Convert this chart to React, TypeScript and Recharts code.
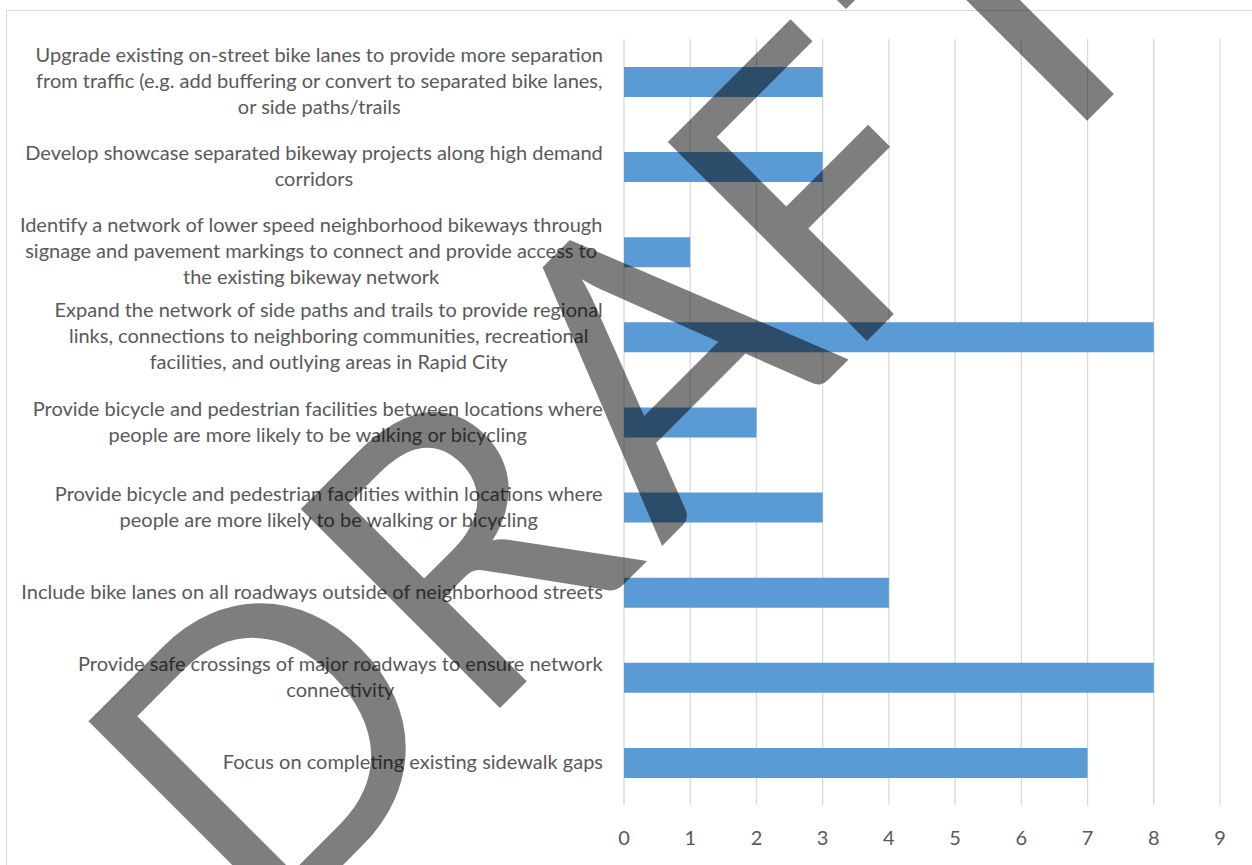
import React from "react";
import { BarChart, Bar, XAxis, YAxis, CartesianGrid } from "recharts";

// strategy labels, top to bottom, with the line breaks used in the source chart
const strategies = [
  "Upgrade existing on-street bike lanes to provide more separation\nfrom traffic (e.g. add buffering or convert to separated bike lanes,\nor side paths/trails",
  "Develop showcase separated bikeway projects along high demand\ncorridors",
  "Identify a network of lower speed neighborhood bikeways through\nsignage and pavement markings to connect and provide access to\nthe existing bikeway network",
  "Expand the network of side paths and trails to provide regional\nlinks, connections to neighboring communities, recreational\nfacilities, and outlying areas in Rapid City",
  "Provide bicycle and pedestrian facilities between locations where\npeople are more likely to be walking or bicycling",
  "Provide bicycle and pedestrian facilities within locations where\npeople are more likely to be walking or bicycling",
  "Include bike lanes on all roadways outside of neighborhood streets",
  "Provide safe crossings of major roadways to ensure network\nconnectivity",
  "Focus on completing existing sidewalk gaps",
];

const votes = [3, 3, 1, 8, 2, 3, 4, 8, 7];

const xTicks = [0, 1, 2, 3, 4, 5, 6, 7, 8, 9];

const watermark = ["D", "R", "A", "F", "T"];

const BAR_COLOR = "#5b9bd5";
const TEXT_COLOR = "#595959";
const GRID_COLOR = "#d9d9d9";
const FONT = "Lato";
const LABEL_SIZE = 20;
const LINE_H = 26;

const data = strategies.map((s, i) => ({ name: s, value: votes[i] }));

let measureCtx: CanvasRenderingContext2D | null = null;
function textWidth(t: string, size: number) {
  if (!measureCtx) measureCtx = document.createElement("canvas").getContext("2d");
  if (!measureCtx) return t.length * size * 0.5;
  measureCtx.font = `${size}px ${FONT}`;
  return measureCtx.measureText(t).width;
}

function CategoryTick(props: any) {
  const { x, y, payload } = props;
  const lines: string[] = String(payload.value).split("\n");
  const right = x - 13;
  const blockW = Math.max(...lines.map((l) => textWidth(l, LABEL_SIZE)));
  const cx = right - blockW / 2;
  const n = lines.length;
  return (
    <g>
      {lines.map((l, i) => (
        <text
          key={i}
          x={cx}
          y={y + (i - (n - 1) / 2) * LINE_H - 1.5}
          textAnchor="middle"
          dominantBaseline="central"
          fontFamily={FONT}
          fontSize={LABEL_SIZE}
          fill={TEXT_COLOR}
        >
          {l}
        </text>
      ))}
    </g>
  );
}

function ValueTick(props: any) {
  const { x, y, payload } = props;
  return (
    <text
      x={x}
      y={y}
      dy={24}
      textAnchor="middle"
      dominantBaseline="central"
      fontFamily={FONT}
      fontSize={20}
      fill={TEXT_COLOR}
    >
      {payload.value}
    </text>
  );
}

// centres of each watermark letter along the rotated baseline
const letterPos = [-334, -60, 214, 447, 702];

export default function App() {
  return (
    <div
      style={{
        position: "absolute",
        left: 0,
        top: 0,
        width: 1252,
        height: 865,
        overflow: "hidden",
        background: "#fff",
      }}
    >
      <div
        style={{
          position: "absolute",
          left: 6,
          top: 10,
          width: 1400,
          height: 1000,
          border: `1px solid ${GRID_COLOR}`,
        }}
      />
      <div style={{ position: "absolute", left: 0, top: 0 }}>
        <BarChart
          width={1252}
          height={865}
          data={data}
          layout="vertical"
          margin={{ top: 39, right: 32, bottom: 20, left: 0 }}
          barCategoryGap={0}
        >
          <CartesianGrid horizontal={false} stroke={GRID_COLOR} strokeWidth={1.3} />
          <XAxis
            type="number"
            domain={[0, 9]}
            ticks={xTicks}
            axisLine={false}
            tickLine={false}
            height={40}
            tick={<ValueTick />}
          />
          <YAxis
            type="category"
            dataKey="name"
            width={624}
            axisLine={false}
            tickLine={false}
            interval={0}
            tick={<CategoryTick />}
          />
          <Bar dataKey="value" fill={BAR_COLOR} barSize={30} isAnimationActive={false} />
        </BarChart>
      </div>
      <svg
        width={1252}
        height={865}
        style={{ position: "absolute", left: 0, top: 0, pointerEvents: "none" }}
      >
        <g transform="translate(604,604) rotate(-45)" opacity={0.5}>
          {watermark.map((ch, i) => (
            <text
              key={i}
              x={letterPos[i]}
              y={0}
              textAnchor="middle"
              fontFamily={FONT}
              fontSize={393}
              fill="#000"
            >
              {ch}
            </text>
          ))}
        </g>
      </svg>
    </div>
  );
}
